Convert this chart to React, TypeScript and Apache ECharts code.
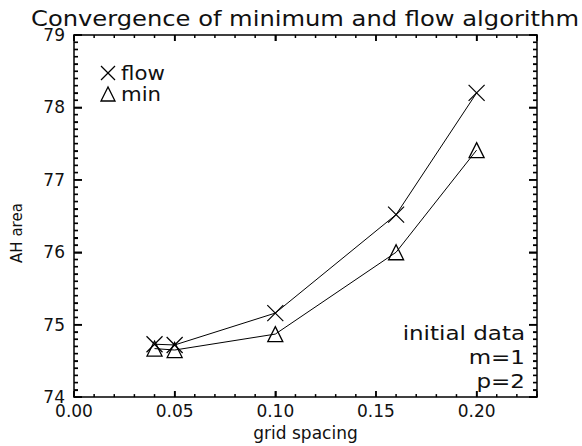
import React, { useEffect, useRef } from "react";
import * as echarts from "echarts";

const gridSpacing = [0.04, 0.05, 0.1, 0.16, 0.2];
const flowArea = [74.73, 74.72, 75.16, 76.52, 78.2];
const minArea = [74.67, 74.65, 74.87, 76.0, 77.41];
const seriesNames = ["flow", "min"];
const noteLines = ["initial data", "m=1", "p=2"];
const titleText = "Convergence of minimum and flow algorithm";

const X_RANGE = [0, 0.23];
const X_MAJOR = 0.05;
const X_MINOR = 0.01;
const Y_RANGE = [74, 79];
const Y_MAJOR = 1;
const Y_MINOR = 0.1;

const FONT = "DejaVu Sans";
const INK = "#111";
const CROSS = "path://M0,0L10,10M0,10L10,0";

function steps(lo: number, hi: number, step: number): number[] {
  const out: number[] = [];
  const n = Math.round((hi - lo) / step + 1e-9);
  for (let i = 0; i <= n; i++) out.push(+(lo + i * step).toFixed(6));
  return out;
}
const isMajor = (v: number, step: number, base: number) =>
  Math.abs((v - base) / step - Math.round((v - base) / step)) < 1e-6;

export default function App() {
  const ref = useRef<HTMLDivElement>(null);
  useEffect(() => {
    if (!ref.current) return;
    const chart = echarts.init(ref.current, null, { renderer: "svg" });
    const line = { show: true, onZero: false, lineStyle: { color: "#000", width: 1.5 } };
    const xBase = {
      type: "value", min: X_RANGE[0], max: X_RANGE[1], interval: X_MAJOR,
      splitLine: { show: false }, axisLine: line,
      axisTick: { show: true, inside: true, length: 6, lineStyle: { color: "#000", width: 1.5 } },
    };
    const yBase = {
      type: "value", min: Y_RANGE[0], max: Y_RANGE[1], interval: Y_MAJOR,
      splitLine: { show: false }, axisLine: line,
      axisTick: { show: true, inside: true, length: 8, lineStyle: { color: "#000", width: 1.5 } },
      minorTick: { show: true, splitNumber: 10, length: 4, lineStyle: { color: "#000", width: 1.2 } },
    };

    const staticGraphics: any[] = [
      {
        type: "text", x: 31, y: 18, scaleX: 1.1,
        style: { text: titleText, fontFamily: FONT, fontSize: 22, fill: INK, textAlign: "left", textVerticalAlign: "middle" },
      },
      { type: "polyline", shape: { points: [[101, 66], [115, 80]] }, style: { stroke: "#000", lineWidth: 1.2, fill: "none" } },
      { type: "polyline", shape: { points: [[101, 80], [115, 66]] }, style: { stroke: "#000", lineWidth: 1.2, fill: "none" } },
      { type: "polygon", shape: { points: [[108, 87], [101, 101], [115, 101]] }, style: { stroke: "#000", lineWidth: 1.3, fill: "none" } },
      { type: "text", x: 121, y: 73, scaleX: 1.12, style: { text: seriesNames[0], fontFamily: FONT, fontSize: 19, fill: INK, textVerticalAlign: "middle" } },
      { type: "text", x: 121, y: 94, scaleX: 1.12, style: { text: seriesNames[1], fontFamily: FONT, fontSize: 19, fill: INK, textVerticalAlign: "middle" } },
      ...noteLines.map((t, i) => ({
        type: "text", x: 525, y: 333 + i * 24, scaleX: 1.15,
        style: { text: t, fontFamily: FONT, fontSize: 20, fill: INK, textAlign: "right", textVerticalAlign: "middle" },
      })),
    ];

    chart.setOption({
      animation: false,
      backgroundColor: "#fff",
      grid: { left: 74, right: 45, top: 35, bottom: 38 },
      xAxis: [
        {
          ...xBase,
          position: "bottom",
          axisLabel: {
            show: true, margin: 5, color: INK, fontFamily: FONT, fontSize: 17,
            formatter: (v: number) => (v < X_RANGE[1] - 0.001 ? v.toFixed(2) : ""),
          },
          name: "grid spacing",
          nameLocation: "middle",
          nameGap: 25,
          nameTextStyle: { color: INK, fontFamily: FONT, fontSize: 17 },
        },
        { ...xBase, position: "top", axisLabel: { show: false } },
      ],
      yAxis: [
        {
          ...yBase,
          position: "left",
          axisLabel: { show: true, margin: 9, color: INK, fontFamily: FONT, fontSize: 17 },
          name: "AH area",
          nameLocation: "middle",
          nameGap: 50,
          nameTextStyle: { color: INK, fontFamily: FONT, fontSize: 15, padding: [0, 34, 0, 0] },
        },
        { ...yBase, position: "right", axisLabel: { show: false } },
      ],
      series: [
        {
          name: seriesNames[0],
          type: "line",
          xAxisIndex: 0,
          yAxisIndex: 0,
          data: gridSpacing.map((x, i) => [x, flowArea[i]]),
          symbol: CROSS,
          symbolSize: 16,
          lineStyle: { color: "#000", width: 1 },
          itemStyle: { color: "transparent", borderColor: "#000", borderWidth: 1.2 },
        },
        {
          name: seriesNames[1],
          type: "line",
          xAxisIndex: 0,
          yAxisIndex: 0,
          data: gridSpacing.map((x, i) => [x, minArea[i]]),
          symbol: "triangle",
          symbolSize: 15,
          lineStyle: { color: "#000", width: 1 },
          itemStyle: { color: "transparent", borderColor: "#000", borderWidth: 1.3 },
        },
      ],
      graphic: staticGraphics,
    });

    // minor x ticks on bottom and top edges, positioned through the chart's scales
    const px = (x: number, y: number): number[] | null => {
      const p = chart.convertToPixel({ seriesIndex: 0 }, [x, y]) as any;
      return Array.isArray(p) && isFinite(p[0]) && isFinite(p[1]) ? p : null;
    };
    const tickStyle = { stroke: "#000", lineWidth: 1.5, fill: "none" };
    const ticks: any[] = [];
    const seg = (a: number[], b: number[]) =>
      ticks.push({ type: "polyline", silent: true, z: 10, shape: { points: [[a[0], a[1]], [b[0], b[1]]] }, style: tickStyle });
    steps(X_RANGE[0], X_RANGE[1], X_MINOR).forEach((v) => {
      const len = isMajor(v, X_MAJOR, X_RANGE[0]) ? 6 : 3;
      const b = px(v, Y_RANGE[0]);
      const t = px(v, Y_RANGE[1]);
      if (b) seg(b, [b[0], b[1] - len]);
      if (t) seg(t, [t[0], t[1] + len]);
    });
    steps(Y_RANGE[0], Y_RANGE[1], Y_MINOR).forEach((v) => {
      const len = isMajor(v, Y_MAJOR, Y_RANGE[0]) ? 8 : 4;
      const l = px(X_RANGE[0], v);
      const r = px(X_RANGE[1], v);
      if (l) seg(l, [l[0] + len, l[1]]);
      if (r) seg(r, [r[0] - len, r[1]]);
    });
    chart.setOption({ graphic: [...staticGraphics, ...ticks] }, { replaceMerge: ["graphic"] });

    return () => chart.dispose();
  }, []);
  return <div ref={ref} style={{ position: "absolute", left: 0, top: 0, width: 582, height: 446 }} />;
}
